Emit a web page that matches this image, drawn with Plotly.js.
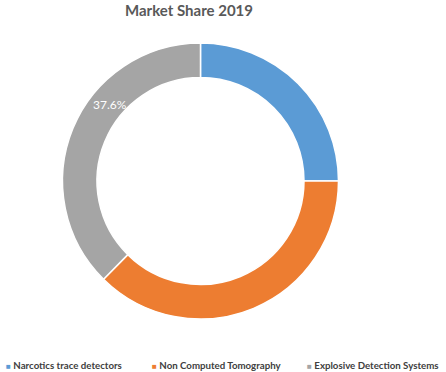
<!DOCTYPE html>
<html>
<head>
<meta charset="utf-8">
<script src="https://cdn.plot.ly/plotly-3.0.1.min.js"></script>
<style>html,body{margin:0;padding:0;background:#fff;}#chart{width:446px;height:372px;}</style>
</head>
<body>
<div id="chart"></div>
<script>
const categories = ["Narcotics trace detectors", "Non Computed Tomography", "Explosive Detection Systems"];
const shares = [25.0, 37.4, 37.6];
const colors = ["#5B9BD5", "#ED7D31", "#A5A5A5"];
const labelledIndex = 2;

const total = shares.reduce((a, b) => a + b, 0);
const pctText = (shares[labelledIndex] / total * 100).toFixed(1) + "%";

const trace = {
  type: "pie",
  labels: categories,
  values: shares,
  hole: 0.75,
  sort: false,
  direction: "clockwise",
  rotation: 0,
  textinfo: "none",
  hoverinfo: "label+percent",
  showlegend: false,
  marker: { colors: colors, line: { color: "#ffffff", width: 1.5 } },
  domain: { x: [0.1401, 0.7590], y: [0.1425, 0.8844] }
};

const legendX = [4, 150, 305];
const legendAnnots = categories.map((c, i) => ({
  text: '<span style="color:' + colors[i] + ';font-size:8px">■</span> <b>' + c + '</b>',
  xref: "paper", yref: "paper",
  x: legendX[i] / 446, y: 1 - 365 / 372,
  xanchor: "left", yanchor: "middle",
  showarrow: false,
  font: { family: "Lato, 'Open Sans', sans-serif", size: 9.7, color: "#404040" }
}));

const layout = {
  width: 446,
  height: 372,
  margin: { l: 0, r: 0, t: 0, b: 0 },
  paper_bgcolor: "#ffffff",
  title: {
    text: "<b>Market Share 2019</b>",
    font: { family: "Lato, 'Open Sans', sans-serif", size: 15, color: "#595959" },
    x: 189 / 446, xanchor: "center", xref: "paper",
    y: 1 - 11 / 372, yanchor: "middle", yref: "container"
  },
  showlegend: false,
  annotations: [{
    text: pctText,
    xref: "paper", yref: "paper",
    x: 110 / 446, y: 1 - 105 / 372,
    xanchor: "center", yanchor: "middle",
    showarrow: false,
    font: { family: "Lato, 'Open Sans', sans-serif", size: 12, color: "#ffffff" }
  }].concat(legendAnnots)
};

Plotly.newPlot("chart", [trace], layout, { displayModeBar: false, staticPlot: true });
</script>
</body>
</html>
